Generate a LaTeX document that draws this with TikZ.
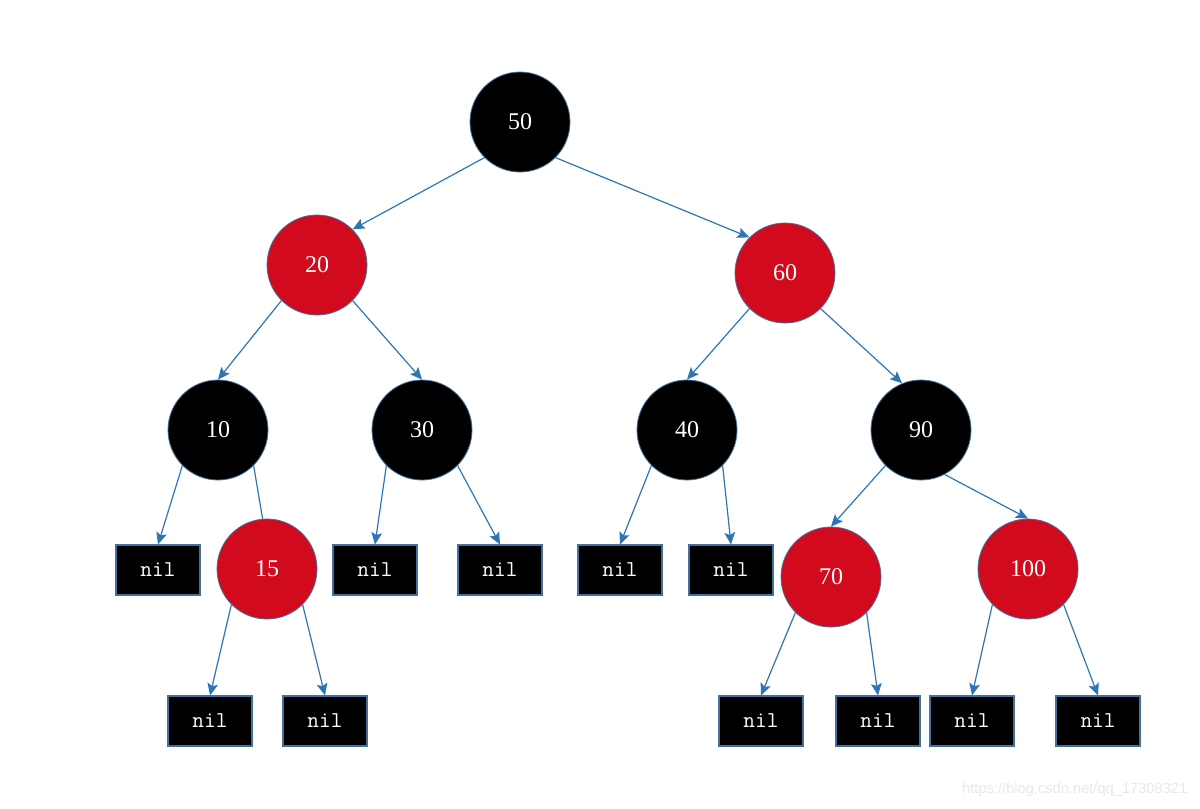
\documentclass[tikz,border=0pt]{standalone}
\usepackage{fontspec}
\setmainfont{Liberation Serif}
\setsansfont{Liberation Sans}
\usetikzlibrary{arrows.meta, positioning}

\definecolor{treered}{HTML}{D20A1E}
\definecolor{rimblue}{HTML}{41719C}
\definecolor{linkblue}{HTML}{2E75B6}

\tikzset{
  blacknode/.style={circle, fill=black, draw=rimblue, line width=0.6pt, minimum size=75pt, inner sep=0pt, text=white, font=\fontsize{18}{20}\selectfont},
  rednode/.style={blacknode, fill=treered},
  nilbox/.style={rectangle, fill=black, draw=rimblue, line width=0.8pt, minimum width=63pt, minimum height=37.5pt, inner sep=0pt, text=white, font=\ttfamily\fontsize{17}{19}\selectfont},
  link/.style={draw=linkblue, line width=0.9pt},
  arrowlink/.style={link, -{Stealth[length=9pt, width=8pt, inset=1.8pt]}}
}

\begin{document}
\begin{tikzpicture}[x=0.75pt, y=-0.75pt]

                \useasboundingbox (0,0) rectangle (1200,808);

                % Draw the tree nodes (black and red)
                \node[blacknode] (n50) at (520,122) {50};
                \node[rednode] (n20) at (317,265) {20};
                \node[rednode] (n60) at (785,273) {60};
                \node[blacknode] (n10) at (218,430) {10};
                \node[blacknode] (n30) at (422,430) {30};
                \node[blacknode] (n40) at (687,430) {40};
                \node[blacknode] (n90) at (921,430) {90};
                \node[rednode] (n15) at (267,569) {15};
                \node[rednode] (n70) at (831,577) {70};
                \node[rednode] (n100) at (1028,569) {100};

                % Draw the nil leaves
                \node[nilbox] (nilA) at (158,570) {nil};
                \node[nilbox] (nilB) at (375,570) {nil};
                \node[nilbox] (nilC) at (500,570) {nil};
                \node[nilbox] (nilD) at (620,570) {nil};
                \node[nilbox] (nilE) at (731,570) {nil};
                \node[nilbox] (nilF) at (210,721) {nil};
                \node[nilbox] (nilG) at (325,721) {nil};
                \node[nilbox] (nilH) at (761,721) {nil};
                \node[nilbox] (nilI) at (878,721) {nil};
                \node[nilbox] (nilJ) at (972,721) {nil};
                \node[nilbox] (nilK) at (1098,721) {nil};

                % Connect parents to children
                \draw[arrowlink] (n50.south west) -- (n20.north east);
                \draw[arrowlink] (n50.south east) -- (n60.north west);
                \draw[arrowlink] (n20.south west) -- (n10.north);
                \draw[arrowlink] (n20.south east) -- (n30.north);
                \draw[arrowlink] (n60.south west) -- (n40.north);
                \draw[arrowlink] (n60.south east) -- (n90.112);
                \draw[arrowlink] (n10.south west) -- (nilA.north);
                \draw[link] (n10.south east) -- (n15.95); % no tip here
                \draw[arrowlink] (n30.south west) -- (nilB.north);
                \draw[arrowlink] (n30.south east) -- (nilC.north);
                \draw[arrowlink] (n40.south west) -- (nilD.north);
                \draw[arrowlink] (n40.south east) -- (nilE.north);
                \draw[arrowlink] (n90.south west) -- (n70.north);
                \draw[arrowlink] (n90.-62) -- (n100.north);
                \draw[arrowlink] (n15.south west) -- (nilF.north);
                \draw[arrowlink] (n15.south east) -- (nilG.north);
                \draw[arrowlink] (n70.south west) -- (nilH.north);
                \draw[arrowlink] (n70.south east) -- (nilI.north);
                \draw[arrowlink] (n100.south west) -- (nilJ.north);
                \draw[arrowlink] (n100.south east) -- (nilK.north);

                % Watermark
                \node[text=black!9, font=\sffamily\fontsize{11}{13}\selectfont, anchor=east] (mark) at (1192,790) {https://blog.csdn.net/qq\_17308321};

\end{tikzpicture}
\end{document}
